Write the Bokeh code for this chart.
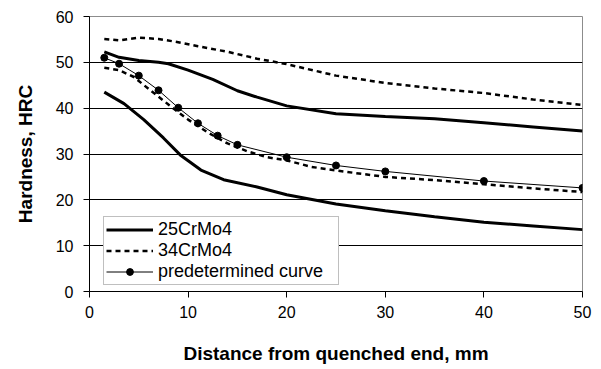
from bokeh.plotting import figure
from bokeh.models import Range1d, Legend, LegendItem
from bokeh.embed import file_html
from bokeh.resources import INLINE

# 25CrMo4 (upper and lower band limits)
cr25_hi_x = [1.5, 3, 5, 7, 8, 10, 12.5, 15, 17, 20, 25, 30, 35, 40, 45, 50]
cr25_hi_y = [52.3, 51.1, 50.4, 50.0, 49.7, 48.3, 46.3, 43.8, 42.4, 40.5, 38.8, 38.2, 37.7, 36.8, 35.9, 35.0]
cr25_lo_x = [1.5, 3.5, 5.5, 7.5, 9.2, 11.3, 13.6, 17, 20, 25, 30, 35, 40, 45, 50]
cr25_lo_y = [43.5, 41.0, 37.5, 33.5, 29.8, 26.5, 24.4, 22.8, 21.1, 19.1, 17.6, 16.3, 15.1, 14.3, 13.5]

# 34CrMo4 (upper and lower band limits)
cr34_hi_x = [1.5, 3, 5, 7, 9, 11, 14, 17, 20, 25, 30, 35, 40, 45, 50]
cr34_hi_y = [55.1, 54.8, 55.4, 55.1, 54.4, 53.5, 52.3, 50.8, 49.6, 47.1, 45.5, 44.3, 43.3, 41.9, 40.7]
cr34_lo_x = [1.5, 3, 4.5, 6, 8, 10, 12, 14, 16, 18, 20, 22.5, 25, 30, 35, 40, 45, 50]
cr34_lo_y = [48.8, 48.3, 46.8, 44.2, 40.8, 37.5, 34.7, 32.3, 30.6, 29.3, 28.6, 27.2, 26.4, 25.0, 24.3, 23.4, 22.5, 21.7]

# predetermined curve
pred_x = [1.5, 3, 5, 7, 9, 11, 13, 15, 20, 25, 30, 40, 50]
pred_y = [51.0, 49.7, 47.1, 43.9, 40.1, 36.7, 34.0, 32.0, 29.3, 27.5, 26.2, 24.1, 22.6]

x_ticks = [0, 10, 20, 30, 40, 50]
y_ticks = [0, 10, 20, 30, 40, 50, 60]

FONT = "Liberation Sans"

p = figure(width=601, height=369, output_backend="svg", toolbar_location=None,
           x_range=Range1d(0, 50), y_range=Range1d(0, 60),
           min_border_left=89, min_border_right=19, min_border_top=16, min_border_bottom=78)
p.background_fill_color = "white"
p.border_fill_color = "white"
p.outline_line_color = "#8c8c8c"
p.outline_line_width = 1

p.xgrid.visible = False
p.ygrid.grid_line_color = "black"
p.ygrid.grid_line_width = 1
p.ygrid.grid_line_alpha = 1.0

p.xaxis.ticker = x_ticks
p.yaxis.ticker = y_ticks
for ax in (p.xaxis[0], p.yaxis[0]):
    ax.axis_line_color = "black"
    ax.axis_line_width = 1
    ax.major_tick_line_color = "black"
    ax.major_tick_out = 6
    ax.major_tick_in = 0
    ax.minor_tick_out = 0
    ax.minor_tick_in = 0
    ax.major_label_text_font = FONT
    ax.major_label_text_font_size = "16px"
    ax.major_label_text_color = "black"
    ax.axis_label_text_font = FONT
    ax.axis_label_text_font_size = "19px"
    ax.axis_label_text_font_style = "bold"
    ax.axis_label_text_color = "black"

p.xaxis.axis_label = "Distance from quenched end, mm"
p.yaxis.axis_label = "Hardness, HRC"
p.xaxis.major_label_standoff = 8
p.xaxis.axis_label_standoff = 22
p.yaxis.major_label_standoff = 10
p.yaxis.axis_label_standoff = 17

r1 = p.line(cr25_hi_x, cr25_hi_y, line_color="black", line_width=3)
p.line(cr25_lo_x, cr25_lo_y, line_color="black", line_width=3)
r2 = p.line(cr34_hi_x, cr34_hi_y, line_color="black", line_width=2.5, line_dash="5 4")
p.line(cr34_lo_x, cr34_lo_y, line_color="black", line_width=2.5, line_dash="5 4")
r3 = p.line(pred_x, pred_y, line_color="black", line_width=1)
r3m = p.scatter(pred_x, pred_y, size=7, marker="circle", fill_color="black", line_color="black")

legend = Legend(items=[
    LegendItem(label="25CrMo4", renderers=[r1]),
    LegendItem(label="34CrMo4", renderers=[r2]),
    LegendItem(label="predetermined curve", renderers=[r3, r3m]),
], location=(14, 6))
legend.label_text_font = FONT
legend.label_text_font_size = "18px"
legend.label_text_color = "black"
legend.glyph_width = 47
legend.glyph_height = 17
legend.label_height = 17
legend.label_width = 178
legend.label_standoff = 5
legend.spacing = 0
legend.padding = 2
legend.margin = 0
legend.border_line_color = "#808080"
legend.border_line_width = 1
legend.background_fill_color = "white"
legend.background_fill_alpha = 1.0
p.add_layout(legend, "center")

open("out.html", "w").write(file_html(p, INLINE))
